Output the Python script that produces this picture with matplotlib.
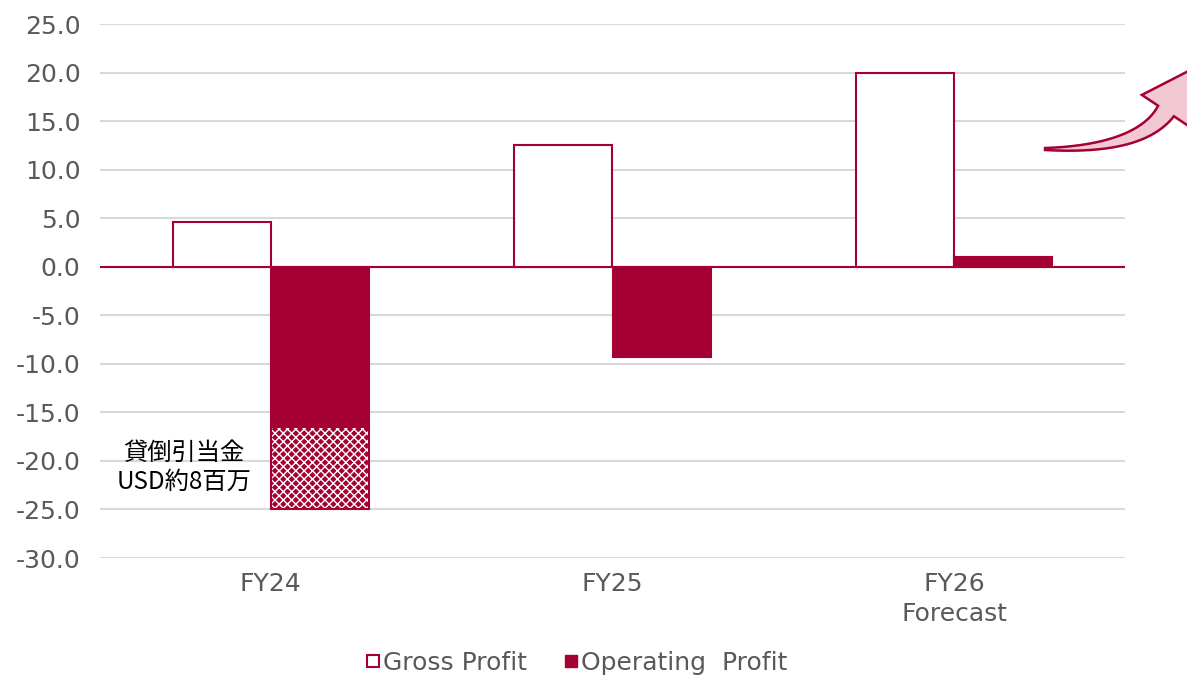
import matplotlib.pyplot as plt
import numpy as np
from matplotlib.patches import Polygon
from matplotlib.lines import Line2D

plt.rcParams['font.family'] = ['DejaVu Sans', 'Noto Sans CJK JP']
plt.rcParams['axes.unicode_minus'] = False

# data
categories = ['FY24', 'FY25', 'FY26\nForecast']
gross_profit = [4.6, 12.5, 20.0]
operating_profit = [-16.5, -9.3, 1.0]
allowance = [-8.5, 0, 0]   # 貸倒引当金 portion stacked under operating profit (FY24 only)
yticks = np.arange(-30, 26, 5)

crimson = '#a50034'
grey = '#595959'
W, H = 1187, 675

fig = plt.figure(figsize=(W / 100, H / 100), dpi=100)
ax = fig.add_axes([100 / W, 1 - 558 / H, 1025 / W, 534 / H])

x = np.arange(len(categories))
w = 0.287

ax.bar(x - w / 2, gross_profit, w, color='white',
       edgecolor=crimson, linewidth=1.5, zorder=3)
ax.bar(x + w / 2, operating_profit, w, color=crimson, edgecolor=crimson,
       linewidth=1.5, zorder=3)

# hatched allowance part on FY24
ax.bar(x[0] + w / 2, allowance[0], w, bottom=operating_profit[0], color=crimson,
       edgecolor='white', hatch='xxxx', linewidth=0, zorder=3)
ax.bar(x[0] + w / 2, allowance[0], w, bottom=operating_profit[0], color='none',
       edgecolor=crimson, linewidth=1.5, zorder=4)

ax.text(x[0] - w / 2 - 0.11, -20.65, '貸倒引当金\nUSD約8百万', ha='center', va='center',
        fontsize=17.5, color='black', linespacing=1.15, zorder=5,
        family=['Noto Sans CJK JP', 'DejaVu Sans'])

ax.set_xlim(-0.5, 2.5)
ax.set_ylim(-30, 25)
ax.set_yticks(yticks)
ax.set_yticklabels(['%.1f' % v for v in yticks])
ax.set_xticks(x)
ax.set_xticklabels(categories, linespacing=1.3)
ax.tick_params(axis='both', length=0, labelsize=18, labelcolor=grey)
ax.tick_params(axis='x', pad=10)
ax.tick_params(axis='y', pad=14)
ax.grid(axis='y', color='#d9d9d9', linewidth=1.5, zorder=0)
ax.axhline(0, color=crimson, linewidth=1.5, zorder=2)
for s in ax.spines.values():
    s.set_visible(False)

handles = [
    Line2D([], [], marker='s', linestyle='none', markersize=9,
           markerfacecolor='white', markeredgecolor=crimson, markeredgewidth=1.5),
    Line2D([], [], marker='s', linestyle='none', markersize=9,
           markerfacecolor=crimson, markeredgecolor=crimson),
]
fig.legend(handles, ['Gross Profit', 'Operating  Profit'], loc='center',
           bbox_to_anchor=(0.485, 0.018), ncol=2, frameon=False, fontsize=18,
           labelcolor=grey, handletextpad=0.05, columnspacing=1.4, handlelength=0.7)

# growth arrow on the right (pixel geometry, tapered curved shaft + head)
p0 = np.array([1045.0, 149.0])
c = np.array([1140.0, 150.0])
p2 = np.array([1166.0, 111.0])
t = np.linspace(0, 1, 40)[:, None]
pts = (1 - t) ** 2 * p0 + 2 * (1 - t) * t * c + t ** 2 * p2
tan = 2 * (1 - t) * (c - p0) + 2 * t * (p2 - c)
tan = tan / np.linalg.norm(tan, axis=1)[:, None]
nrm = np.column_stack([tan[:, 1], -tan[:, 0]])
half = 1.0 + 8.5 * t
upper = pts + nrm * half
lower = pts - nrm * half
d = tan[-1]
n = nrm[-1]
head = [p2 + n * 29, p2 + d * 52, p2 - n * 29]
outline = np.vstack([upper, head, lower[::-1]])
outline = np.column_stack([outline[:, 0] / W, 1 - outline[:, 1] / H])
fig.patches.append(Polygon(outline, closed=True, transform=fig.transFigure,
                           facecolor='#f2c9d3', edgecolor=crimson, linewidth=1.8))

fig.savefig('out.png', dpi=100)
